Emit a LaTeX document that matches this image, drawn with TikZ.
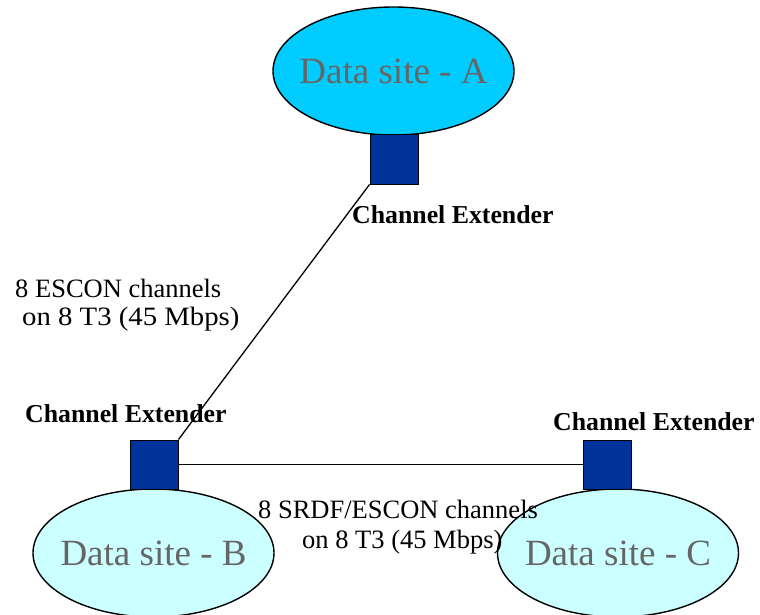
\documentclass[tikz,border=0pt]{standalone}
\usepackage{fontspec}
\usepackage{graphicx}
\setmainfont{Liberation Serif}
\usetikzlibrary{shapes.geometric}
\definecolor{siteA}{HTML}{00CCFF}
\definecolor{siteBC}{HTML}{CCFFFF}
\definecolor{extbox}{HTML}{003399}
\definecolor{sitetext}{HTML}{666666}
\tikzset{
  site/.style={ellipse, draw=black, line width=1.4pt, minimum width=241pt, minimum height=128pt, inner sep=0pt},
  sitename/.style={text=sitetext, font=\fontsize{37}{40}\selectfont, inner sep=0pt},
  extender/.style={rectangle, draw=black, line width=1pt, fill=extbox, minimum width=48pt, minimum height=49pt, inner sep=0pt},
  extlabel/.style={anchor=base west, inner sep=0pt, font=\fontsize{25.8}{28}\selectfont\bfseries},
  chanlabel/.style={anchor=base west, inner sep=0pt, font=\fontsize{26.5}{28}\selectfont},
  link/.style={draw=black, line width=1.3pt}
}
\begin{document}
\begin{tikzpicture}[x=1pt,y=-1pt]
\useasboundingbox (0,0) rectangle (760,615);
\node[site, fill=siteA, label={[sitename]center:Data site - A}] (A) at (393.5,71) {};
\node[site, fill=siteBC, label={[sitename]center:Data site - B}] (B) at (153.5,553) {};
\node[site, fill=siteBC, label={[sitename]center:Data site - C}] (C) at (618,553) {};
\node[extender] (xA) at (394,159.5) {};
\node[extender] (xB) at (154,464.5) {};
\node[extender] (xC) at (607.5,464.5) {};
\draw[link] (xA.south west) -- (xB.north east);
\draw[link] (xB.east) -- (xC.west);
\node[extlabel] (lA) at (352,223) {Channel Extender};
\node[extlabel] (lB) at (25,422) {Channel Extender};
\node[extlabel] (lC) at (553,430) {Channel Extender};
\node[chanlabel] (e1) at (15,297) {8 ESCON channels};
\node[chanlabel] (e2) at (22,325) {\scalebox{1.085}[1]{on 8 T3 (45 Mbps)}};
\node[chanlabel] (s1) at (258,518) {8 SRDF/ESCON channels};
\node[chanlabel] (s2) at (302,548) {on 8 T3 (45 Mbps)};
\end{tikzpicture}
\end{document}
